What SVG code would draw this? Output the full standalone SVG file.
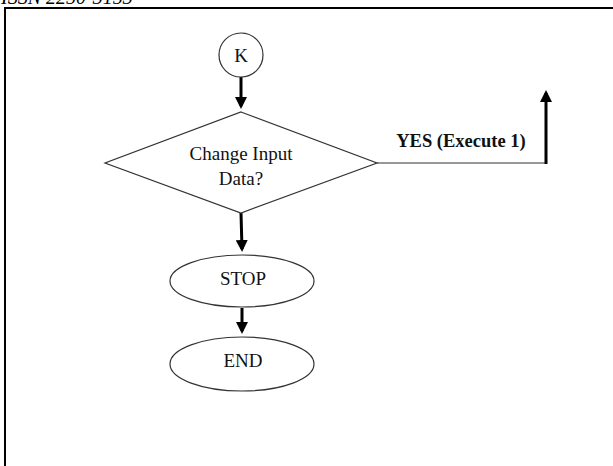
<svg xmlns="http://www.w3.org/2000/svg" width="613" height="466" viewBox="0 0 613 466">
<style>
.shape{fill:#fff;stroke:#333;stroke-width:1.2}
.lbl{font-family:"Liberation Serif",serif;font-size:19px;fill:#111;text-anchor:middle}
.thick{stroke:#000;stroke-width:3;fill:none}
</style>
<defs>
<marker id="ah" markerWidth="4" markerHeight="4" refX="3" refY="2" orient="auto" markerUnits="strokeWidth">
<path d="M0,0 L4,2 L0,4 Z" fill="#000"/>
</marker>
</defs>
<rect width="613" height="466" fill="#fff"/>
<text x="1" y="4" font-family="Liberation Serif,serif" font-style="italic" font-size="20" fill="#000">ISSN 2250-3153</text>
<path d="M5,466 V8 H613" fill="none" stroke="#000" stroke-width="2"/>
<g id="connectors">
<line class="thick" x1="241" y1="77" x2="241" y2="106" marker-end="url(#ah)"/>
<line class="thick" x1="241" y1="213" x2="242" y2="249" marker-end="url(#ah)"/>
<line class="thick" x1="242" y1="308" x2="242" y2="331" marker-end="url(#ah)"/>
<path d="M377,163 H546" fill="none" stroke="#333" stroke-width="1.2"/>
<line class="thick" x1="546" y1="164" x2="546" y2="93" marker-end="url(#ah)"/>
<text x="461" y="147" font-family="Liberation Serif,serif" font-weight="bold" font-size="18.5" fill="#111" text-anchor="middle">YES (Execute 1)</text>
</g>
<g id="k">
<circle class="shape" cx="241" cy="55" r="22"/>
<text class="lbl" x="241" y="62">K</text>
</g>
<g id="decision">
<polygon class="shape" points="241,112 377,163 241,213 105,163"/>
<text class="lbl" x="241" y="160">Change Input</text>
<text class="lbl" x="241" y="185">Data?</text>
</g>
<g id="stop">
<ellipse class="shape" cx="242" cy="281" rx="72" ry="26"/>
<text class="lbl" x="243" y="285">STOP</text>
</g>
<g id="end">
<ellipse class="shape" cx="242" cy="364" rx="72" ry="27"/>
<text class="lbl" x="243" y="367">END</text>
</g>
</svg>
